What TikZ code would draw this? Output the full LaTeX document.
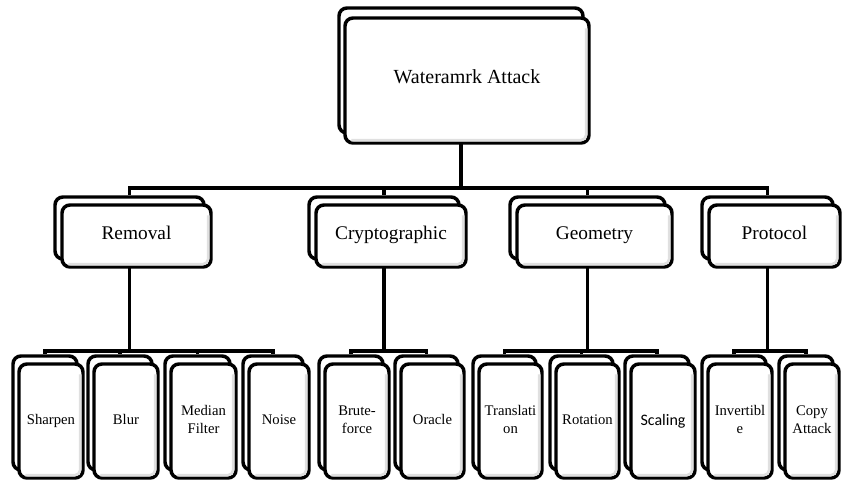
\documentclass[tikz,border=0pt]{standalone}
\usepackage{fontspec}
\setmainfont{Liberation Serif}
\newfontfamily\calibfont{Carlito}
\usetikzlibrary{calc}
\pgfdeclarelayer{paper}
\pgfdeclarelayer{bg}
\pgfsetlayers{paper,bg,main}
\tikzset{
  boxline/.style={draw=black, line width=2.6pt, fill=white, rounded corners=6pt, inner sep=0pt},
  bevel/.style={draw=black!12, line width=2pt, rounded corners=4pt},
  conn/.style={draw=black, line width=2.6pt},
  toptext/.style={font=\fontsize{15}{18}\selectfont, text height=0.7em, text depth=0.22em},
  midtext/.style={font=\fontsize{14.5}{17}\selectfont, text height=0.7em, text depth=0.22em},
  leaftext/.style={font=\fontsize{11}{13.5}\selectfont, align=center, text depth=0.22em},
  scaletext/.style={font=\calibfont\fontsize{12}{14}\selectfont, align=center, text depth=0.22em},
}
\newcommand\duobox[9]{%
  \node[boxline, minimum width=#4*0.75pt, minimum height=#5*0.75pt] (#1b) at (#2+#4/2, #3+#5/2) {};
  \node[boxline, minimum width=#4*0.75pt, minimum height=#5*0.75pt] (#1) at (#2+#4/2+#6, #3+#5/2+#7) {};
  \draw[bevel] ($(#1.north east)+(-4.5,12)$) -- ($(#1.south east)+(-4.5,-4.5)$) -- ($(#1.south west)+(8,-4.5)$);
  \node[#8] (#1t) at (#1.center) {#9};
}
\begin{document}
\begin{tikzpicture}[x=0.75pt,y=-0.75pt]
\useasboundingbox (0,0) rectangle (844,483);
\begin{pgfonlayer}{paper}
  \fill[white] (0,0) rectangle (844,483);
\end{pgfonlayer}
% level 0
\duobox{top}{339}{8}{244}{125}{6}{10}{toptext}{Wateramrk Attack}
% level 1
\duobox{rem}{55}{197}{149}{62}{7}{8}{midtext}{Removal}
\duobox{cry}{309}{197}{150}{62}{7}{8}{midtext}{Cryptographic}
\duobox{geo}{510}{197}{155}{62}{7}{8}{midtext}{Geometry}
\duobox{pro}{702}{197}{131}{62}{7}{8}{midtext}{Protocol}
% leaves
\duobox{sha}{13}{356}{64}{114}{6}{8}{leaftext}{Sharpen}
\duobox{blu}{88}{356}{64}{114}{6}{8}{leaftext}{Blur}
\duobox{med}{165}{356}{65}{114}{6}{8}{leaftext}{Median\\Filter}
\duobox{noi}{243}{356}{60}{114}{6}{8}{leaftext}{Noise}
\duobox{bru}{319}{356}{64}{114}{6}{8}{leaftext}{Brute-\\force}
\duobox{ora}{395}{356}{63}{114}{6}{8}{leaftext}{Oracle}
\duobox{tra}{473}{356}{63}{114}{6}{8}{leaftext}{Translati\\on}
\duobox{rot}{550}{356}{63}{114}{6}{8}{leaftext}{Rotation}
\duobox{sca}{625}{356}{64}{114}{6}{8}{scaletext}{Scaling}
\duobox{inv}{702}{356}{64}{114}{6}{8}{leaftext}{Invertibl\\e}
\duobox{cop}{779}{356}{54}{114}{6}{8}{leaftext}{Copy\\Attack}
% connectors
\begin{pgfonlayer}{bg}
  \coordinate (bus1) at (0,188);
  \coordinate (bus2) at (0,351);
  \draw[conn] (topb.south) -- (topb.south |- bus1);
  \foreach \c in {rem,cry,geo,pro}
    \draw[conn] (topb.south |- bus1) -| (\c b.north);
  \draw[conn] (remb.south) -- (remb.south |- bus2);
  \foreach \c in {sha,blu,med,noi}
    \draw[conn] (remb.south |- bus2) -| (\c b.north);
  \draw[conn] (cryb.south) -- (cryb.south |- bus2);
  \foreach \c in {bru,ora}
    \draw[conn] (cryb.south |- bus2) -| (\c b.north);
  \draw[conn] (geob.south) -- (geob.south |- bus2);
  \foreach \c in {tra,rot,sca}
    \draw[conn] (geob.south |- bus2) -| (\c b.north);
  \draw[conn] (prob.south) -- (prob.south |- bus2);
  \foreach \c in {inv,cop}
    \draw[conn] (prob.south |- bus2) -| (\c b.north);
\end{pgfonlayer}
\end{tikzpicture}
\end{document}
